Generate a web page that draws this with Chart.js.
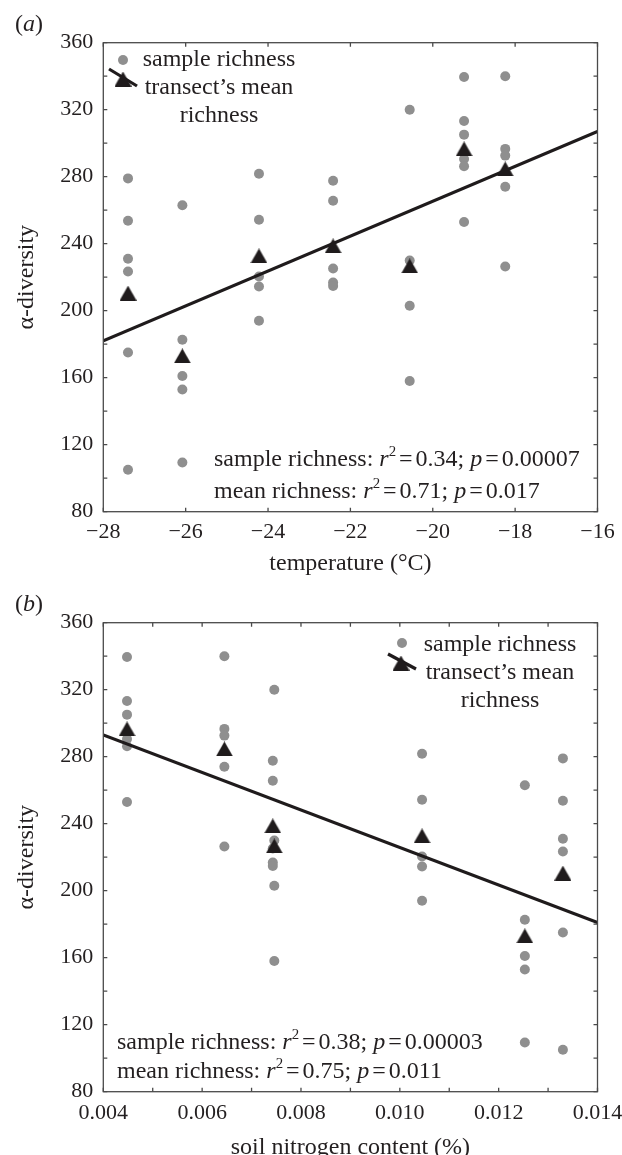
<!DOCTYPE html>
<html><head><meta charset="utf-8">
<script src="https://cdn.jsdelivr.net/npm/chart.js@4.4.1/dist/chart.umd.min.js"></script>
<style>
html,body{margin:0;padding:0;background:#fff;overflow:hidden;}
.wrap{position:absolute;left:0;width:622px;height:580px;}
#wa{top:0}
#wb{top:580px}
</style></head><body>
<div class="wrap" id="wa"><canvas id="ca" width="622" height="580"></canvas></div>
<div class="wrap" id="wb"><canvas id="cb" width="622" height="580"></canvas></div>
<script>
// ---------------- data ----------------
const transectTemp = [-27.4, -26.08, -24.22, -22.42, -20.56, -19.24, -18.24];
const transectNitrogen = [0.0133, 0.01253, 0.01045, 0.00743, 0.00746, 0.00448, 0.00645];
const sampleRichness = [
  [279, 253.7, 231, 223.4, 175, 105],
  [263, 182.7, 161, 153, 109.4],
  [281.8, 254.3, 220.4, 214.4, 194],
  [277.6, 265.6, 225.2, 216.8, 214.8],
  [320, 230, 203, 158],
  [339.5, 313.3, 305.1, 290.6, 286.2, 253],
  [340, 296.6, 292.6, 274, 226.4]
];
const meanRichness = [210.5, 173, 232.7, 238.7, 226.7, 296.6, 284.6];
const tempFitX = [-28, -16];
const tempFitY = [182, 307];
const nitrogenFitX = [0.004, 0.014];
const nitrogenFitY = [293, 181];
const richnessTicks = [80, 120, 160, 200, 240, 280, 320, 360];
const richnessTickLabels = ['80', '120', '160', '200', '240', '280', '320', '360'];
const tempTicks = [-28, -26, -24, -22, -20, -18, -16];
const tempTickLabels = ['\u221228', '\u221226', '\u221224', '\u221222', '\u221220', '\u221218', '\u221216'];
const nitrogenTicks = [0.004, 0.006, 0.008, 0.010, 0.012, 0.014];
const nitrogenTickLabels = ['0.004', '0.006', '0.008', '0.010', '0.012', '0.014'];

// ---------------- styling ----------------
const FONT = '"Liberation Serif", "Times New Roman", serif';
const TXT = '#231f20';
const GREY = '#8f8f8f';
const BLACK = '#1f1b1c';
Chart.defaults.font.family = FONT;
Chart.defaults.color = TXT;

function makeTri(w, h, color) {
  const c = document.createElement('canvas');
  c.width = w; c.height = h;
  const g = c.getContext('2d');
  g.fillStyle = color;
  g.beginPath(); g.moveTo(w / 2, 0); g.lineTo(w, h); g.lineTo(0, h); g.closePath(); g.fill();
  return c;
}
const TRI = makeTri(17, 15, BLACK);

function labelFor(vals, labels) {
  return (v) => {
    for (let i = 0; i < vals.length; i++) if (Math.abs(vals[i] - v) < 1e-9) return labels[i];
    return '';
  };
}

function drawRich(ctx, x, y, segs, size) {
  let cx = x;
  ctx.textBaseline = 'middle';
  ctx.textAlign = 'left';
  for (const s of segs) {
    const fs = s.sup ? size * 0.62 : size;
    ctx.font = (s.it ? 'italic ' : '') + fs + 'px ' + FONT;
    const dy = s.sup ? -size * 0.32 : 0;
    ctx.fillText(s.t, cx, y + dy);
    cx += ctx.measureText(s.t).width + (s.gap || 0);
  }
}

const decor = {
  id: 'decor',
  afterDatasetsDraw(chart, args, o) {
    const ctx = chart.ctx;
    const {left, right, top, bottom} = chart.chartArea;
    const xs = chart.scales.x, ys = chart.scales.y;
    ctx.save();
    // frame
    ctx.strokeStyle = '#4a4a4a';
    ctx.lineWidth = 1.3;
    ctx.strokeRect(left, top, right - left, bottom - top);
    // inward ticks
    ctx.beginPath();
    xs.ticks.forEach(t => {
      const p = xs.getPixelForValue(t.value);
      ctx.moveTo(p, bottom); ctx.lineTo(p, bottom - 4);
      ctx.moveTo(p, top); ctx.lineTo(p, top + 4);
    });
    ys.ticks.forEach(t => {
      const p = ys.getPixelForValue(t.value);
      ctx.moveTo(left, p); ctx.lineTo(left + 4, p);
      ctx.moveTo(right, p); ctx.lineTo(right - 4, p);
    });
    ctx.stroke();
    // panel letter
    ctx.fillStyle = TXT;
    drawRich(ctx, 15, o.letterY, [{t: '('}, {t: o.letter, it: true}, {t: ')'}], 24);
    // legend
    const L = o.legend;
    ctx.fillStyle = GREY;
    ctx.beginPath(); ctx.arc(L.cx, L.cy, 5, 0, Math.PI * 2); ctx.fill();
    ctx.strokeStyle = BLACK; ctx.lineWidth = 3.2;
    ctx.beginPath(); ctx.moveTo(L.l1[0], L.l1[1]); ctx.lineTo(L.l1[2], L.l1[3]); ctx.stroke();
    ctx.drawImage(TRI, L.tx - TRI.width / 2, L.ty - TRI.height / 2);
    ctx.fillStyle = TXT;
    ctx.font = '24px ' + FONT;
    ctx.textAlign = 'center'; ctx.textBaseline = 'middle';
    ctx.fillText('sample richness', L.textX, L.y1);
    ctx.fillText('transect\u2019s mean', L.textX, L.y1 + 28);
    ctx.fillText('richness', L.textX, L.y1 + 56);
    // stats annotation
    const A = o.stats;
    const eqGap = 3;
    drawRich(ctx, A.x, A.y1, [
      {t: 'sample richness: '}, {t: 'r', it: true}, {t: '2', sup: true, gap: eqGap}, {t: '=', gap: eqGap},
      {t: A.r1 + '; '}, {t: 'p', it: true, gap: eqGap}, {t: '=', gap: eqGap}, {t: A.p1}
    ], 24);
    drawRich(ctx, A.x, A.y2, [
      {t: 'mean richness: '}, {t: 'r', it: true}, {t: '2', sup: true, gap: eqGap}, {t: '=', gap: eqGap},
      {t: A.r2 + '; '}, {t: 'p', it: true, gap: eqGap}, {t: '=', gap: eqGap}, {t: A.p2}
    ], 24);
    ctx.restore();
  }
};

function buildChart(id, xVals, fitX, fitY, xOpts, deco, xTitle, titlePadB) {
  const tri = xVals.map((x, i) => ({x, y: meanRichness[i]}));
  const pts = [];
  sampleRichness.forEach((arr, i) => arr.forEach(y => pts.push({x: xVals[i], y})));
  const fit = fitX.map((x, i) => ({x, y: fitY[i]}));
  return new Chart(document.getElementById(id), {
    type: 'scatter',
    data: {
      datasets: [
        {data: tri, pointStyle: TRI, pointRadius: 9, backgroundColor: BLACK, borderWidth: 0},
        {data: fit, showLine: true, pointRadius: 0, borderColor: BLACK, borderWidth: 3.2, fill: false},
        {data: pts, pointStyle: 'circle', pointRadius: 5, backgroundColor: GREY, borderWidth: 0}
      ]
    },
    options: {
      responsive: false,
      animation: false,
      events: [],
      layout: {padding: {top: 42.7, right: 24.5, left: 0, bottom: 0}},
      plugins: {legend: {display: false}, tooltip: {enabled: false}, decor: deco},
      scales: {
        x: Object.assign({
          type: 'linear',
          grid: {display: false, drawTicks: false},
          border: {display: false},
          title: {display: true, text: xTitle, font: {size: 24}, color: TXT, padding: {top: 0, bottom: titlePadB}},
          afterFit(s) { s.height = 68.3; s.paddingLeft = 0; s.paddingRight = 0; }
        }, xOpts),
        y: {
          type: 'linear', min: 80, max: 360,
          ticks: {stepSize: 20, autoSkip: false, padding: 10, font: {size: 22}, color: TXT,
            callback: labelFor(richnessTicks, richnessTickLabels)},
          grid: {display: false, drawTicks: false},
          border: {display: false},
          title: {display: true, text: '\u03b1-diversity', font: {size: 24}, color: TXT, padding: {top: 12, bottom: 0}},
          afterFit(s) { s.width = 103.3; s.paddingTop = 0; s.paddingBottom = 0; }
        }
      }
    },
    plugins: [decor]
  });
}

buildChart('ca', transectTemp, tempFitX, tempFitY, {
  min: -28, max: -16,
  ticks: {stepSize: 2, autoSkip: false, maxRotation: 0, minRotation: 0, padding: 7, font: {size: 22}, color: TXT,
    callback: labelFor(tempTicks, tempTickLabels)}
}, {
  letter: 'a', letterY: 25,
  legend: {cx: 123, cy: 60, l1: [109, 69, 137, 86], tx: 123, ty: 79, textX: 219, y1: 60},
  stats: {x: 214, y1: 460, y2: 491.5, r1: '0.34', p1: '0.00007', r2: '0.71', p2: '0.017'}
}, 'temperature (\u00b0C)', 2);

buildChart('cb', transectNitrogen, nitrogenFitX, nitrogenFitY, {
  min: 0.004, max: 0.014,
  ticks: {stepSize: 0.001, autoSkip: false, maxRotation: 0, minRotation: 0, padding: 8, font: {size: 22}, color: TXT,
    callback: labelFor(nitrogenTicks, nitrogenTickLabels)}
}, {
  letter: 'b', letterY: 25,
  legend: {cx: 402, cy: 63, l1: [388, 74, 416, 89], tx: 401, ty: 83, textX: 500, y1: 65},
  stats: {x: 117, y1: 463, y2: 492, r1: '0.38', p1: '0.00003', r2: '0.75', p2: '0.011'}
}, 'soil nitrogen content (%)', -2);
</script>
</body></html>
